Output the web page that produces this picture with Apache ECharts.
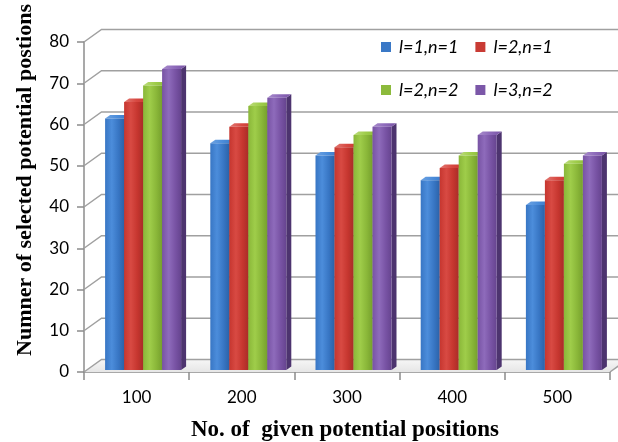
<!DOCTYPE html>
<html>
<head>
<meta charset="utf-8">
<script src="https://cdn.jsdelivr.net/npm/echarts@6/dist/echarts.min.js"></script>
<style>
  html, body { margin: 0; padding: 0; background: #ffffff; }
  #chart { width: 618px; height: 442px; }
</style>
</head>
<body>
<div id="chart"></div>
<script>
// Number of given potential positions (x categories)
const categories = ['100', '200', '300', '400', '500'];
// Series names
const seriesNames = ['l=1,n=1', 'l=2,n=1', 'l=2,n=2', 'l=3,n=2'];
// Number of selected potential positions per series
const valuesL1N1 = [61, 55, 52, 46, 40];
const valuesL2N1 = [65, 59, 54, 49, 46];
const valuesL2N2 = [69, 64, 57, 52, 50];
const valuesL3N2 = [73, 66, 59, 57, 52];
// Value axis ticks
const yTicks = [0, 10, 20, 30, 40, 50, 60, 70, 80];

const allValues = [valuesL1N1, valuesL2N1, valuesL2N2, valuesL3N2];

// Pseudo-3D geometry (pixels)
const WALL_DX = 17.5, WALL_DY = -12.5;   // back wall offset from the front plane
const BAR_DX = 6.5, BAR_DY = -2;          // bar front face offset
const BAR_W = 19;                         // bar front width
const DEP_X = 5, DEP_Y = -3.5;            // bar depth (top / side faces)

const palettes = [
  { base: '#3a78c6', light: '#4c8ddb', mid: '#3876c4', dark: '#2c62a8', top: '#6ea3e2', side: '#244f85' },
  { base: '#c93b34', light: '#d84a43', mid: '#c6362f', dark: '#a92d28', top: '#e27a74', side: '#842420' },
  { base: '#8cba3c', light: '#9fcd4a', mid: '#8ab739', dark: '#76a02d', top: '#bddd7c', side: '#5b7c22' },
  { base: '#7b57a8', light: '#8e6bbb', mid: '#7853a4', dark: '#66448f', top: '#a98dcc', side: '#4d346f' }
];

function grad(x0, y0, x1, y1, stops) {
  return new echarts.graphic.LinearGradient(x0, y0, x1, y1,
    stops.map(s => ({ offset: s[0], color: s[1] })));
}

function barRenderer(idx) {
  const p = palettes[idx];
  return function (params, api) {
    const cat = api.value(0), v = api.value(1);
    const top = api.coord([cat, v]);
    const base = api.coord([cat, 0]);
    const x0 = top[0] - 2 * BAR_W + idx * BAR_W + BAR_DX;
    const x1 = x0 + BAR_W;
    const yT = top[1] + BAR_DY;
    const yB = base[1] + BAR_DY;
    return {
      type: 'group',
      children: [
        {
          type: 'polygon',
          shape: { points: [[x1, yB], [x1 + DEP_X, yB + DEP_Y], [x1 + DEP_X, yT + DEP_Y], [x1, yT]] },
          style: { fill: p.side }
        },
        {
          type: 'polygon',
          shape: { points: [[x0, yT], [x1, yT], [x1 + DEP_X, yT + DEP_Y], [x0 + DEP_X, yT + DEP_Y]] },
          style: { fill: grad(0, 0, 1, 0, [[0, p.top], [0.5, p.light], [1, p.mid]]) }
        },
        {
          type: 'rect',
          shape: { x: x0, y: yT, width: BAR_W, height: yB - yT },
          style: { fill: grad(0, 0, 1, 0, [[0, p.mid], [0.35, p.light], [0.7, p.mid], [1, p.dark]]) }
        }
      ]
    };
  };
}

function wallRenderer(params, api) {
  const cs = params.coordSys;
  const v = api.value(1);
  const y = api.coord([0, v])[1];
  const xL = cs.x, xR = cs.x + cs.width;
  const children = [];
  if (v === 0) {
    // floor plane
    children.push({
      type: 'polygon',
      shape: { points: [[xL, y], [xR, y], [xR + WALL_DX, y + WALL_DY], [xL + WALL_DX, y + WALL_DY]] },
      style: { fill: grad(0, 0, 0, 1, [[0, '#f6f6f6'], [1, '#e6e6e6']]) }
    });
    children.push({
      type: 'polyline',
      shape: { points: [[xR, y], [xR + WALL_DX, y + WALL_DY]] },
      style: { stroke: '#a0a0a0', lineWidth: 1.5, fill: null }
    });
  }
  children.push({
    type: 'polyline',
    shape: { points: [[xL, y], [xL + WALL_DX, y + WALL_DY], [xR + WALL_DX + 30, y + WALL_DY]] },
    style: { stroke: '#a0a0a0', lineWidth: 1.5, fill: null }
  });
  return { type: 'group', children: children };
}

const chart = echarts.init(document.getElementById('chart'), null, { renderer: 'canvas' });

const legendCommon = {
  orient: 'horizontal',
  left: 381,
  padding: 0,
  itemWidth: 10,
  itemHeight: 10,
  itemGap: 17,
  icon: 'rect',
  textStyle: { fontFamily: 'Lato', fontStyle: 'italic', fontSize: 18, color: '#000', padding: [0, 0, 0, 3] }
};

const series = [{
  type: 'custom',
  name: 'wall',
  renderItem: wallRenderer,
  data: yTicks.map(v => [0, v]),
  z: 1,
  silent: true
}];
allValues.forEach((vals, i) => {
  series.push({
    type: 'custom',
    name: seriesNames[i],
    itemStyle: { color: palettes[i].base },
    renderItem: barRenderer(i),
    data: vals.map((v, c) => [c, v]),
    z: 3
  });
});

chart.setOption({
  animation: false,
  backgroundColor: '#ffffff',
  grid: { left: 84, right: 8, top: 42, bottom: 70 },
  legend: [
    Object.assign({}, legendCommon, { top: 38, data: [seriesNames[0], seriesNames[1]] }),
    Object.assign({}, legendCommon, { top: 81, data: [seriesNames[2], seriesNames[3]] })
  ],
  xAxis: {
    type: 'category',
    data: categories,
    boundaryGap: true,
    axisLine: { show: true, lineStyle: { color: '#8c8c8c', width: 1.5 } },
    axisTick: { show: true, alignWithLabel: false, length: 8, lineStyle: { color: '#8c8c8c', width: 1.5 } },
    axisLabel: { fontFamily: 'Lato', fontSize: 17, color: '#000', margin: 17 },
    splitLine: { show: false }
  },
  yAxis: {
    type: 'value',
    min: yTicks[0],
    max: yTicks[yTicks.length - 1],
    interval: 10,
    axisLine: { show: true, lineStyle: { color: '#8c8c8c', width: 1.5 } },
    axisTick: { show: true, length: 7, lineStyle: { color: '#8c8c8c', width: 1.5 } },
    axisLabel: { fontFamily: 'Lato', fontSize: 17, color: '#000', margin: 15 },
    splitLine: { show: false }
  },
  graphic: [
    {
      type: 'text',
      x: 25, y: 180,
      rotation: Math.PI / 2,
      style: {
        text: 'Numner of selected potential postions',
        font: 'bold 22px "Liberation Serif", "Times New Roman", serif',
        fill: '#000',
        textAlign: 'center',
        textVerticalAlign: 'middle'
      }
    },
    {
      type: 'text',
      x: 345, y: 430,
      style: {
        text: 'No. of  given potential positions',
        font: 'bold 23px "Liberation Serif", "Times New Roman", serif',
        fill: '#000',
        textAlign: 'center',
        textVerticalAlign: 'middle'
      }
    }
  ],
  series: series
});
</script>
</body>
</html>
